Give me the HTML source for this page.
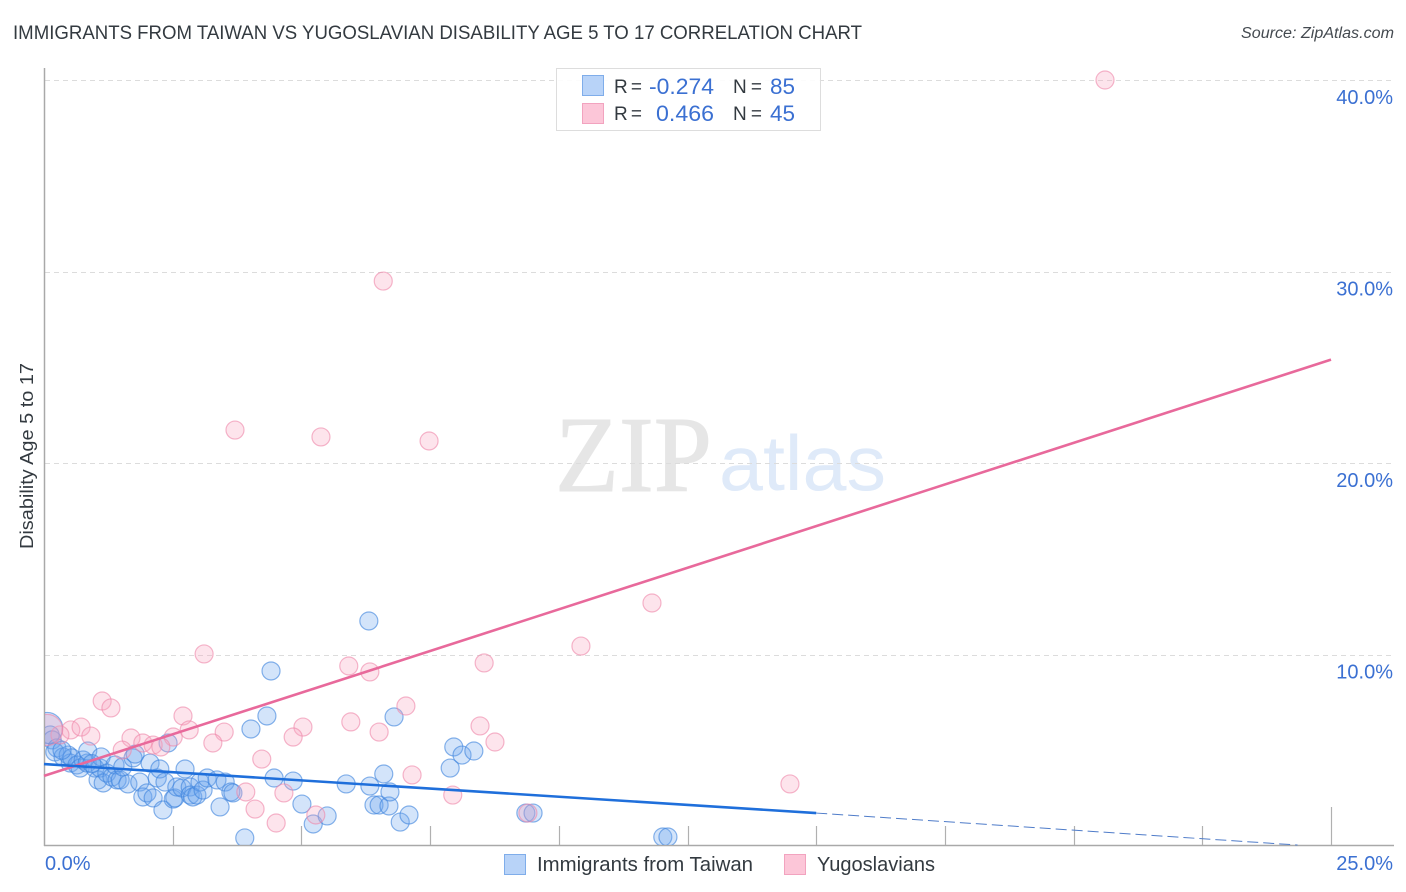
<!DOCTYPE html>
<html lang="en">
<head>
<meta charset="utf-8">
<title>Immigrants from Taiwan vs Yugoslavian Disability Age 5 to 17 Correlation Chart</title>
<style>
html,body{margin:0;padding:0;background:#fff;}
svg{display:block;font-family:"Liberation Sans",sans-serif;}
</style>
</head>
<body>
<svg id="chart" xmlns="http://www.w3.org/2000/svg" width="1406" height="892" viewBox="0 0 1406 892">
  <rect x="0" y="0" width="1406" height="892" fill="#ffffff"/>
  <text x="13" y="39" font-size="19.5" fill="#333a40" textLength="849" lengthAdjust="spacingAndGlyphs">IMMIGRANTS FROM TAIWAN VS YUGOSLAVIAN DISABILITY AGE 5 TO 17 CORRELATION CHART</text>
  <text x="1394" y="38" font-size="15.5" font-style="italic" fill="#444a50" text-anchor="end" textLength="153" lengthAdjust="spacingAndGlyphs">Source: ZipAtlas.com</text>
  <g>
    <text x="555" y="491" font-family="'Liberation Serif',serif" font-size="108" fill="#e6e6e6" stroke="#e6e6e6" stroke-width="1" textLength="157" lengthAdjust="spacingAndGlyphs">ZIP</text>
    <text x="719" y="490" font-size="78" fill="#dfeaf9" textLength="167" lengthAdjust="spacingAndGlyphs">atlas</text>
  </g>
  <g id="grid"></g>
  <g id="axes"></g>
  <g id="points"></g>
  <g id="trends"></g>
  <text transform="translate(33,456) rotate(-90)" font-size="18" fill="#333a40" text-anchor="middle" textLength="186" lengthAdjust="spacingAndGlyphs">Disability Age 5 to 17</text>
  <g>
    <rect x="556.5" y="68.5" width="264" height="62" fill="#ffffff" fill-opacity="0.9" stroke="#dddddd" stroke-width="1"/>
    <rect x="582.5" y="75.5" width="21" height="20" fill="#b8d3f8" stroke="#7fadea" stroke-width="1"/>
    <rect x="582.5" y="103.5" width="21" height="20" fill="#fcc6d8" stroke="#f2a3bf" stroke-width="1"/>
    <text x="614" y="93" font-size="19" fill="#333a40" textLength="28">R =</text>
    <text x="714" y="94" font-size="22" fill="#3b70d2" text-anchor="end" textLength="65" lengthAdjust="spacingAndGlyphs">-0.274</text>
    <text x="733" y="93" font-size="19" fill="#333a40" textLength="29">N =</text>
    <text x="795" y="94" font-size="22" fill="#3b70d2" text-anchor="end" textLength="25" lengthAdjust="spacingAndGlyphs">85</text>
    <text x="614" y="120" font-size="19" fill="#333a40" textLength="28">R =</text>
    <text x="714" y="121" font-size="22" fill="#3b70d2" text-anchor="end" textLength="58" lengthAdjust="spacingAndGlyphs">0.466</text>
    <text x="733" y="120" font-size="19" fill="#333a40" textLength="29">N =</text>
    <text x="795" y="121" font-size="22" fill="#3b70d2" text-anchor="end" textLength="25" lengthAdjust="spacingAndGlyphs">45</text>
  </g>
  <g>
    <g>
      <rect x="504.5" y="854.5" width="21" height="20" fill="#b8d3f8" stroke="#7fadea" stroke-width="1"/>
      <text x="537" y="871" font-size="20" fill="#333a40" textLength="216" lengthAdjust="spacingAndGlyphs">Immigrants from Taiwan</text>
    </g>
    <g>
      <rect x="784.5" y="854.5" width="21" height="20" fill="#fcc6d8" stroke="#f2a3bf" stroke-width="1"/>
      <text x="817" y="871" font-size="20" fill="#333a40" textLength="118" lengthAdjust="spacingAndGlyphs">Yugoslavians</text>
    </g>
  </g>
  <defs>
    <clipPath id="plot-clip"><rect x="45" y="60" width="1349" height="785"/></clipPath>
  </defs>
</svg>
<script>
// x = Immigrants from Taiwan share (%), y = disability age 5 to 17 (%)
const xTickValues = [2.5, 5, 7.5, 10, 12.5, 15, 17.5, 20, 22.5, 25];
const yGridValues = [10, 20, 30, 40];
const yTickLabels = ["10.0%", "20.0%", "30.0%", "40.0%"];
const xEndLabels = ["0.0%", "25.0%"];

const taiwanX = [0.06,0.12,0.16,0.25,0.21,0.37,0.47,0.51,0.54,0.64,0.70,0.76,0.84,0.85,0.99,1.05,1.09,1.11,1.15,1.22,1.32,1.38,1.42,1.48,1.53,1.63,1.73,1.77,1.86,1.92,2.00,2.06,2.12,2.20,2.25,2.31,2.35,2.41,2.51,2.54,2.58,2.68,2.74,2.84,2.84,2.89,2.97,3.03,3.09,3.17,3.36,3.42,3.52,3.63,3.67,3.90,4.02,4.33,4.41,4.47,4.84,5.01,5.23,5.50,5.87,6.31,6.33,6.41,6.51,6.60,6.70,6.72,6.80,6.92,7.09,7.89,7.96,8.12,8.35,9.36,9.50,12.02,12.12,0.35,0.93];
const taiwanY = [6.16,5.80,5.54,5.12,4.91,4.65,4.75,4.33,4.60,4.23,4.07,4.49,4.33,4.96,4.07,3.45,4.07,4.65,3.29,3.81,3.60,4.23,3.45,3.45,4.13,3.24,4.60,4.80,3.34,2.56,2.77,4.33,2.51,3.55,4.02,1.88,3.34,5.38,2.45,2.51,3.08,3.03,4.02,3.08,2.66,2.56,2.66,3.34,2.92,3.55,3.45,2.04,3.34,2.82,2.77,0.42,6.11,6.79,9.14,3.55,3.39,2.19,1.15,1.57,3.24,11.75,3.13,2.14,2.14,3.76,2.09,2.82,6.74,1.25,1.62,4.07,5.17,4.75,4.96,1.72,1.72,0.47,0.47,5.00,4.30];
const taiwanWeights = [3.0];

const yugoslavX = [20.61,6.59,3.71,5.38,7.48,11.81,10.43,3.11,8.55,5.92,6.33,1.13,1.30,7.03,2.70,5.96,0.52,0.72,0.31,0.06,5.03,8.47,2.82,3.50,6.51,4.84,0.91,1.69,3.28,8.76,2.51,1.92,2.12,2.27,4.23,1.52,7.15,14.49,3.92,4.66,7.94,4.10,5.28,4.51,9.40];
const yugoslavY = [40.00,29.50,21.72,21.36,21.15,12.69,10.44,10.03,9.56,9.40,9.09,7.57,7.21,7.31,6.79,6.48,6.06,6.21,5.80,6.06,6.21,6.27,6.06,5.95,5.95,5.69,5.74,5.64,5.38,5.43,5.69,5.38,5.27,5.17,4.54,5.01,3.71,3.24,2.82,2.77,2.66,1.93,1.62,1.20,1.72];
const yugoslavWeights = [];
yugoslavWeights[19] = 3.0;

const taiwanTrendX = [0, 15];
const taiwanTrendY = [4.28, 1.72];
const taiwanForecastX = [15, 24.35];
const taiwanForecastY = [1.72, 0.05];
const yugoslavTrendX = [0, 25];
const yugoslavTrendY = [3.66, 25.4];

const NS = "http://www.w3.org/2000/svg";
const xScale = v => 44 + v * 51.48;
const yScale = v => 846 - v * 19.15;
const gridG = document.getElementById("grid");
const axesG = document.getElementById("axes");
const pointsG = document.getElementById("points");
const trendsG = document.getElementById("trends");
pointsG.setAttribute("clip-path", "url(#plot-clip)");

function make(tag, attrs, parent) {
  const el = document.createElementNS(NS, tag);
  for (const k in attrs) el.setAttribute(k, attrs[k]);
  parent.appendChild(el);
  return el;
}

yGridValues.forEach((v, i) => {
  const y = Math.round(yScale(v)) + 0.5;
  const line = make("line", {x1: 45, x2: 1394, y1: y, y2: y, stroke: "#dcdcdc", "stroke-width": 1, "stroke-dasharray": "5 4"}, gridG);
  
  
  const label = make("text", {x: 1393, y: yScale(v) + 24, "font-size": 20, fill: "#3b70d2", "text-anchor": "end"}, axesG);
  label.textContent = yTickLabels[i];
  
  
});

const yAxisLine = make("line", {x1: 44.5, x2: 44.5, y1: 68, y2: 846, stroke: "#a9a9a9", "stroke-width": 1.5}, axesG);


const xAxisLine = make("line", {x1: 44, x2: 1394, y1: 845.5, y2: 845.5, stroke: "#a9a9a9", "stroke-width": 1.5}, axesG);



xTickValues.forEach((v, i) => {
  const x = Math.round(xScale(v)) + 0.5;
  const last = i === xTickValues.length - 1;
  const tick = make("line", {x1: x, x2: x, y1: last ? 807 : 826, y2: 845, stroke: "#b0b0b0", "stroke-width": 1.2}, axesG);
  
  
});

const xLabelStart = make("text", {x: 45, y: 870, "font-size": 20, fill: "#3b70d2"}, axesG);
xLabelStart.textContent = xEndLabels[0];


const xLabelEnd = make("text", {x: 1393, y: 870, "font-size": 20, fill: "#3b70d2", "text-anchor": "end"}, axesG);
xLabelEnd.textContent = xEndLabels[1];



taiwanX.forEach((v, i) => {
  const c = make("circle", {cx: xScale(v), cy: yScale(taiwanY[i]), r: 9 * Math.sqrt(taiwanWeights[i] || 1),
    fill: "#6ea6ee", "fill-opacity": 0.3, stroke: "#3f85dd", "stroke-opacity": 0.62, "stroke-width": 1.2}, pointsG);
  
  
});

yugoslavX.forEach((v, i) => {
  const c = make("circle", {cx: xScale(v), cy: yScale(yugoslavY[i]), r: 9 * Math.sqrt(yugoslavWeights[i] || 1),
    fill: "#f9a6c1", "fill-opacity": 0.3, stroke: "#ee86a9", "stroke-opacity": 0.6, "stroke-width": 1.2}, pointsG);
  
  
});

const yugoslavLine = make("line", {x1: xScale(yugoslavTrendX[0]), y1: yScale(yugoslavTrendY[0]), x2: xScale(yugoslavTrendX[1]), y2: yScale(yugoslavTrendY[1]),
  stroke: "#e8699b", "stroke-width": 2.6}, trendsG);



const taiwanLine = make("line", {x1: xScale(taiwanTrendX[0]), y1: yScale(taiwanTrendY[0]), x2: xScale(taiwanTrendX[1]), y2: yScale(taiwanTrendY[1]),
  stroke: "#1f6fdb", "stroke-width": 2.6}, trendsG);



const taiwanForecast = make("line", {x1: xScale(taiwanForecastX[0]), y1: yScale(taiwanForecastY[0]), x2: xScale(taiwanForecastX[1]), y2: yScale(taiwanForecastY[1]),
  stroke: "#4f7cc9", "stroke-width": 1, "stroke-dasharray": "11 5"}, trendsG);


</script>
</body>
</html>
